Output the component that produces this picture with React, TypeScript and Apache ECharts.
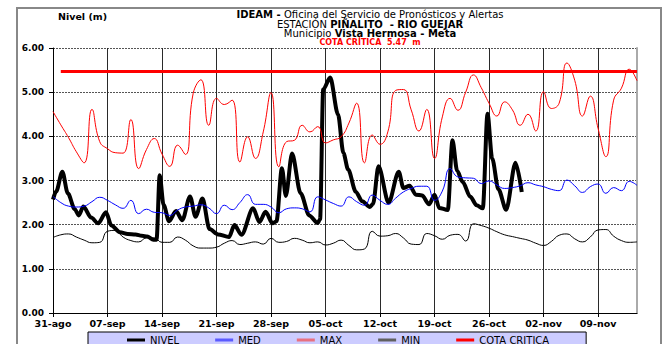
import React, { useEffect, useRef } from "react";
import * as echarts from "echarts";

const tickLabels = ["31-ago", "07-sep", "14-sep", "21-sep", "28-sep", "05-oct", "12-oct", "19-oct", "26-oct", "02-nov", "09-nov"];

// daily series, day 0 = 31-ago
const maxValues = [4.56, 4.26, 3.97, 3.65, 3.40, 4.61, 3.88, 3.72, 3.63, 3.62, 4.38, 3.27, 3.70, 3.95, 3.60, 3.32, 3.80, 3.59, 4.97, 5.28, 4.25, 4.86, 4.72, 4.82, 3.42, 3.99, 3.50, 4.10, 4.99, 3.31, 3.88, 3.91, 4.25, 4.10, 4.22, 3.85, 3.92, 3.99, 4.30, 4.75, 3.40, 4.03, 3.82, 4.10, 5.04, 5.06, 4.60, 4.12, 4.61, 3.50, 4.44, 4.86, 4.59, 5.00, 5.39, 5.10, 4.75, 4.46, 4.78, 4.60, 4.25, 4.50, 4.12, 5.01, 4.63, 4.75, 5.66, 5.27, 4.46, 4.91, 4.18, 3.54, 4.82, 5.09, 5.52, 5.26];
const medValues = [2.64, 2.50, 2.42, 2.40, 2.42, 2.52, 2.62, 2.55, 2.45, 2.37, 2.55, 2.25, 2.35, 2.28, 2.27, 2.21, 2.33, 2.40, 2.42, 2.45, 2.38, 2.25, 2.44, 2.34, 2.50, 2.68, 2.46, 2.46, 2.40, 2.27, 2.36, 2.38, 2.36, 2.29, 2.63, 2.56, 2.48, 2.42, 2.63, 2.52, 2.44, 2.67, 2.55, 2.46, 2.60, 2.74, 2.82, 2.87, 2.87, 2.55, 2.76, 3.27, 3.08, 3.06, 3.05, 2.93, 2.99, 2.90, 2.82, 2.84, 2.88, 2.95, 2.90, 2.86, 2.80, 2.77, 3.01, 2.88, 2.73, 2.86, 2.92, 2.71, 2.84, 2.77, 2.98, 2.89];
const minValues = [1.71, 1.77, 1.79, 1.72, 1.65, 1.59, 1.60, 1.85, 1.87, 1.72, 1.64, 1.61, 1.70, 1.70, 1.60, 1.60, 1.72, 1.65, 1.52, 1.47, 1.47, 1.49, 1.58, 1.64, 1.55, 1.58, 1.61, 1.56, 1.69, 1.60, 1.62, 1.69, 1.65, 1.59, 1.61, 1.54, 1.58, 1.65, 1.53, 1.43, 1.45, 1.85, 1.74, 1.75, 1.80, 1.70, 1.56, 1.55, 1.80, 1.75, 1.67, 1.76, 1.78, 1.63, 2.02, 1.98, 1.92, 1.84, 1.77, 1.73, 1.69, 1.65, 1.58, 1.53, 1.62, 1.76, 1.79, 1.68, 1.61, 1.72, 1.88, 1.89, 1.74, 1.64, 1.60, 1.61];

// observed level (NIVEL): time in days since 31-ago, level in m
const nivelDays = [0, 0.4, 1.2, 1.9, 2.8, 3.3, 3.9, 4.9, 5.8, 6.8, 7.5, 8.6, 9.6, 10.6, 11.4, 12.1, 12.9, 13.3, 13.7, 14.2, 14.9, 15.8, 16.6, 17.6, 18.3, 19.2, 20.1, 21.2, 22.6, 23.3, 24.2, 25.7, 26.5, 27.3, 28.2, 28.7, 29.4, 29.9, 30.7, 31.8, 32.9, 34.0, 34.3, 34.7, 35.6, 36.6, 37.3, 37.9, 38.9, 39.7, 40.7, 41.1, 41.8, 43.1, 44.4, 45.0, 45.8, 46.6, 47.4, 48.3, 49.0, 49.6, 50.7, 51.3, 51.9, 52.6, 53.6, 54.4, 55.2, 55.8, 56.4, 57.2, 58.2, 59.4, 60.2];
const nivelValues = [2.57, 2.75, 3.20, 2.71, 2.35, 2.21, 2.41, 2.16, 2.03, 2.28, 1.98, 1.83, 1.79, 1.78, 1.75, 1.73, 1.66, 1.66, 3.12, 2.45, 2.08, 2.31, 2.10, 2.64, 2.18, 2.59, 1.90, 1.78, 1.72, 1.99, 1.77, 2.37, 2.06, 2.29, 2.03, 2.08, 3.28, 2.65, 3.61, 2.71, 2.21, 2.04, 2.12, 5.06, 5.33, 4.50, 3.62, 3.25, 2.74, 2.53, 2.40, 2.47, 3.32, 2.50, 3.20, 2.83, 2.88, 2.68, 2.66, 2.46, 2.68, 2.38, 2.33, 3.91, 3.22, 2.97, 2.63, 2.44, 2.37, 4.51, 3.50, 2.80, 2.34, 3.40, 2.74];

const cotaCritica = 5.47;
const cotaDays = [1, 75];

const FONT = "DejaVu Sans, Liberation Sans, Arial, sans-serif";

export default function App() {
  const ref = useRef<HTMLDivElement>(null);
  useEffect(() => {
    if (!ref.current) return;
    const chart = echarts.init(ref.current, undefined, { renderer: "svg" });
    const daily = (arr: number[]) => arr.map((v, i) => [i, v]);
    chart.setOption({
      animation: false,
      backgroundColor: "#ffffff",
      textStyle: { fontFamily: FONT },
      grid: { left: 53, right: 32, top: 48, bottom: 31, containLabel: false },
      xAxis: {
        type: "value",
        min: 0,
        max: 75,
        interval: 7,
        axisLine: { show: true, lineStyle: { color: "#000", width: 1 } },
        axisTick: { show: true, length: 4, lineStyle: { color: "#000" } },
        axisLabel: {
          margin: 5,
          color: "#000",
          fontWeight: "bold",
          fontSize: 9.5,
          fontFamily: FONT,
          showMaxLabel: false,
          formatter: (v: number) => (v % 7 === 0 ? tickLabels[v / 7] ?? "" : ""),
        },
        splitLine: { show: true, lineStyle: { color: "#2a2a2a", width: 1 } },
      },
      yAxis: [
        {
          type: "value",
          min: 0,
          max: 6,
          interval: 1,
          axisLine: { show: true, lineStyle: { color: "#000", width: 1 } },
          axisTick: { show: true, length: 4, lineStyle: { color: "#000" } },
          axisLabel: {
            margin: 9,
            color: "#000",
            fontWeight: "bold",
            fontSize: 9,
            fontFamily: FONT,
            formatter: (v: number) => v.toFixed(2),
          },
          splitLine: { show: true, lineStyle: { color: "#555", width: 1, type: [2, 1] } },
        },
        {
          type: "value",
          min: 0,
          max: 6,
          interval: 1,
          position: "right",
          axisLine: { show: true, lineStyle: { color: "#aaaaaa", width: 2 } },
          axisTick: { show: false },
          axisLabel: { show: false },
          splitLine: { show: false },
        },
      ],
      legend: {
        left: 88,
        top: 332,
        padding: [3, 37, 8, 39],
        itemGap: 36,
        itemWidth: 18,
        itemHeight: 3,
        icon: "rect",
        backgroundColor: "#ccccff",
        borderColor: "#000",
        borderWidth: 1,
        borderRadius: 0,
        textStyle: { fontSize: 10, color: "#000", fontFamily: FONT },
        data: [
          { name: "NIVEL", itemStyle: { color: "#000000" } },
          { name: "MED", itemStyle: { color: "#5a5aff" } },
          { name: "MAX", itemStyle: { color: "#e87080" } },
          { name: "MIN", itemStyle: { color: "#606060" } },
          { name: "COTA CRITICA", itemStyle: { color: "#ff0000" } },
        ],
      },
      series: [
        {
          name: "NIVEL",
          type: "line",
          color: "#000000",
          data: nivelDays.map((d, i) => [d, nivelValues[i]]),
          showSymbol: false,
          smooth: 0.3,
          smoothMonotone: "x",
          lineStyle: { width: 4, color: "#000000" },
          z: 2,
        },
        {
          name: "MED",
          type: "line",
          color: "#0000ff",
          data: daily(medValues),
          showSymbol: false,
          smooth: 0.5,
          lineStyle: { width: 1, color: "#0000ff" },
          z: 3,
        },
        {
          name: "MAX",
          type: "line",
          color: "#ff0000",
          data: daily(maxValues),
          showSymbol: false,
          smooth: 0.5,
          lineStyle: { width: 1, color: "#ff0000" },
          z: 3,
        },
        {
          name: "MIN",
          type: "line",
          color: "#000000",
          data: daily(minValues),
          showSymbol: false,
          smooth: 0.5,
          lineStyle: { width: 1, color: "#000000" },
          z: 3,
        },
        {
          name: "COTA CRITICA",
          type: "line",
          color: "#ff0000",
          data: cotaDays.map((d) => [d, cotaCritica]),
          showSymbol: false,
          lineStyle: { width: 3, color: "#ff0000" },
          z: 4,
        },
      ],
      graphic: [
        {
          type: "rect",
          silent: true,
          z: -10,
          shape: { x: 17, y: 8, width: 644, height: 345 },
          style: { fill: "none", stroke: "#888888", lineWidth: 2 },
        },
        {
          type: "text",
          x: 58,
          y: 16,
          style: { text: "Nivel (m)", font: `bold 9.5px ${FONT}`, fill: "#000", align: "left", verticalAlign: "middle" },
        },
        {
          type: "text",
          x: 370,
          y: 14,
          style: {
            text: "{b|IDEAM -} {n|Oficina del Servicio de Pronósticos y Alertas}",
            align: "center",
            verticalAlign: "middle",
            rich: {
              b: { font: `bold 10px ${FONT}`, fill: "#000" },
              n: { font: `10px ${FONT}`, fill: "#000" },
            },
          },
        },
        {
          type: "text",
          x: 370,
          y: 24,
          style: {
            text: "{n|ESTACIÓN} {b|PIÑALITO  - RIO GUEJAR}",
            align: "center",
            verticalAlign: "middle",
            rich: {
              b: { font: `bold 10px ${FONT}`, fill: "#000" },
              n: { font: `10px ${FONT}`, fill: "#000" },
            },
          },
        },
        {
          type: "text",
          x: 370,
          y: 33.5,
          style: {
            text: "{n|Municipio} {b|Vista Hermosa - Meta}",
            align: "center",
            verticalAlign: "middle",
            rich: {
              b: { font: `bold 10px ${FONT}`, fill: "#000" },
              n: { font: `10px ${FONT}`, fill: "#000" },
            },
          },
        },
        {
          type: "text",
          x: 370,
          y: 42.5,
          style: { text: "COTA CRÍTICA  5.47  m", font: `bold 8px ${FONT}`, fill: "#ff0000", align: "center", verticalAlign: "middle" },
        },
      ],
    });
    return () => chart.dispose();
  }, []);
  return <div ref={ref} style={{ position: "fixed", left: 0, top: 0, width: 669, height: 344 }} />;
}
